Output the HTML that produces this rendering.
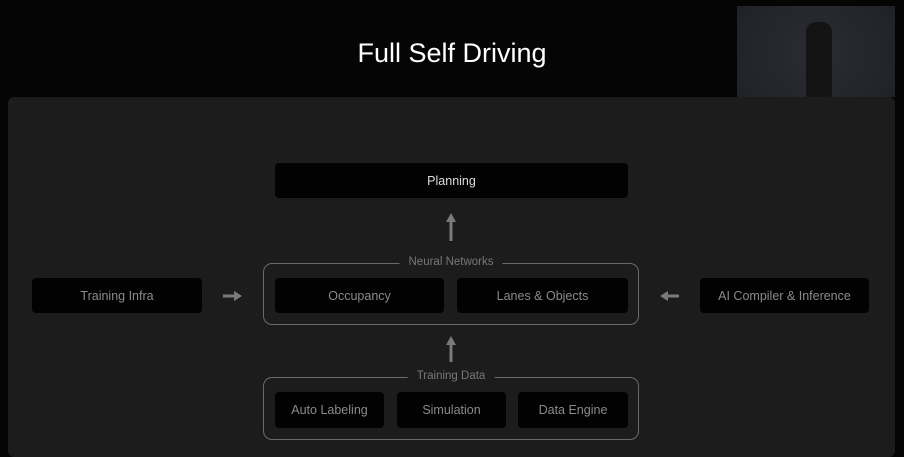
<!DOCTYPE html>
<html><head><style>
body{margin:0;width:904px;height:448px;background:#050505;overflow:hidden;position:relative;font-family:"Liberation Sans",sans-serif}
.a{position:absolute}
.panel{left:8px;top:97px;width:887px;height:360px;background:#1b1c1b;border-radius:6px}
.b{position:absolute;background:#020202;border-radius:4px;color:#8a8a8a;font-size:12.5px;display:flex;align-items:center;justify-content:center}
.g{position:absolute;border:1.5px solid #6a6a6a;border-radius:9px}
.gl{position:absolute;background:#1b1c1b;color:#777;font-size:11.5px;padding:0 9px;transform:translateX(-50%)}
</style></head><body>
<div class="a" style="left:0;top:38px;width:904px;text-align:center;color:#fff;font-size:27px;">Full Self Driving</div>
<div class="a panel"></div>
<div class="a" style="left:737px;top:6px;width:158px;height:91px;background:radial-gradient(circle at 50% 50%,#2a2c33,#202227)"></div>
<div class="a" style="left:806px;top:22px;width:26px;height:75px;background:#141414;border-radius:10px 10px 2px 2px"></div>
<div class="b" style="left:275px;top:163px;width:353px;height:35px;color:#ddd;font-size:12.5px">Planning</div>
<svg class="a" style="left:0;top:0" width="904" height="448">
<g fill="#7a7a7a" stroke="#7a7a7a">
<line x1="451" y1="222" x2="451" y2="241" stroke-width="3"/><polygon points="446,222 456,222 451,213" stroke="none"/>
<line x1="451" y1="345" x2="451" y2="362" stroke-width="3"/><polygon points="446,345 456,345 451,336" stroke="none"/>
<line x1="223" y1="296" x2="234" y2="296" stroke-width="3"/><polygon points="234,291 234,301 242,296" stroke="none"/>
<line x1="668" y1="296" x2="679" y2="296" stroke-width="3"/><polygon points="668,291 668,301 660,296" stroke="none"/>
</g></svg>
<div class="g" style="left:263px;top:263px;width:374px;height:60px"></div>
<div class="gl" style="left:451px;top:256px">Neural Networks</div>
<div class="g" style="left:263px;top:377px;width:374px;height:61px"></div>
<div class="gl" style="left:451px;top:370px">Training Data</div>
<div class="b" style="left:275px;top:278px;width:169px;height:35px">Occupancy</div>
<div class="b" style="left:457px;top:278px;width:171px;height:35px">Lanes &amp; Objects</div>
<div class="b" style="left:32px;top:278px;width:170px;height:35px">Training Infra</div>
<div class="b" style="left:700px;top:278px;width:169px;height:35px">AI Compiler &amp; Inference</div>
<div class="b" style="left:275px;top:392px;width:109px;height:36px">Auto Labeling</div>
<div class="b" style="left:397px;top:392px;width:109px;height:36px">Simulation</div>
<div class="b" style="left:518px;top:392px;width:110px;height:36px">Data Engine</div>
</body></html>
